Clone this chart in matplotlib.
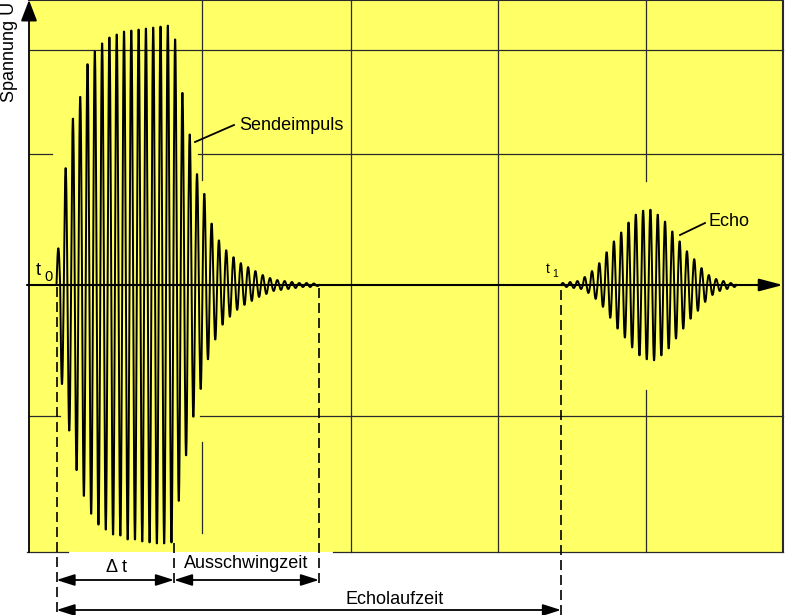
import numpy as np
import matplotlib
matplotlib.use('Agg')
import matplotlib.pyplot as plt

plt.rcParams['font.family'] = ['Liberation Sans', 'DejaVu Sans']

# time base (same units as the drawing, 1 unit ~ 1 px), t0 = start of pulse
t0 = 27.5
t1 = 532.0
period = 7.3

# Sendeimpuls: peak amplitude of each cycle (positive / negative half)
send_pos = [37, 118, 168, 190, 223, 236, 244, 250, 253, 256, 257, 258,
            259, 260, 261, 262, 248, 194, 152, 112, 92, 62, 45, 35,
            28, 22, 18, 14, 10, 7, 5, 4, 3, 2, 2, 1.5]
send_neg = [100, 147, 187, 213, 231, 242, 247, 252, 253, 257, 257, 259,
            260, 261, 261, 260, 218, 172, 133, 105, 75, 55, 40, 32,
            25, 20, 16, 12, 9, 6, 5, 4, 3, 2, 2, 1]

# Echo: peak amplitude of each cycle
echo_amp = [2, 3, 4, 8, 14, 22, 33, 44, 53, 63, 71, 75,
            76, 71, 64, 54, 44, 34, 26, 17, 10, 6, 4, 2]

# time marks
t_delta = 145.0      # end of the excitation (Delta t)
t_ausschwing = 290.0  # end of ring-down

# grid (horizontal lines y, vertical lines x)
grid_y = [235, 131, -131, -267]
grid_x = [173, 322, 469, 617]

yellow = '#ffff66'
gridcol = '#2a2a2a'


def burst(start, pos, neg):
    ts, ys = [], []
    ph = np.linspace(0, 1, 12)
    for i in range(len(pos)):
        a = start + i * period
        ts.append(a + ph * period / 2)
        ys.append(pos[i] * np.sin(np.pi * ph))
        ts.append(a + period / 2 + ph * period / 2)
        ys.append(-neg[i] * np.sin(np.pi * ph))
    return np.concatenate(ts), np.concatenate(ys)


fig = plt.figure(figsize=(7.85, 6.15), dpi=100)
ax = fig.add_axes([0, 0, 1, 1])
ax.set_xlim(-29, 756)
ax.set_ylim(-330, 285)
ax.axis('off')

# yellow plot field
ax.add_patch(plt.Rectangle((0, -267), 754, 552, color=yellow, lw=0, zorder=0))

# grid segments (parts hidden behind the bursts are left out)
def hseg(y, x0, x1, lw=0.9):
    ax.plot([x0, x1], [y, y], color=gridcol, lw=lw, zorder=1)

def vseg(x, y0, y1, lw=0.9):
    ax.plot([x, x], [y0, y1], color=gridcol, lw=lw, zorder=1)

hseg(grid_y[0], 0, 754)
hseg(grid_y[1], 0, 23)
hseg(grid_y[1], 169, 754)
hseg(grid_y[2], 0, 31)
hseg(grid_y[2], 171, 754)
hseg(grid_y[3], -2, 39)
hseg(grid_y[3], 304, 754)
hseg(285, 0, 754, lw=1.5)
vseg(grid_x[0], 105, 285)
vseg(grid_x[0], -248, -157)
vseg(grid_x[1], -267, 285)
vseg(grid_x[2], -267, 285)
vseg(grid_x[3], 104, 285)
vseg(grid_x[3], -267, -105)
vseg(754, -267, 285, lw=1.5)

# axes with arrows
ax.annotate('', xy=(754, 0), xytext=(-2, 0),
            arrowprops=dict(arrowstyle='-|>,head_length=1.45,head_width=0.38',
                            mutation_scale=10, color='black', lw=1.5,
                            shrinkA=0, shrinkB=0))
ax.annotate('', xy=(0, 285), xytext=(0, -267),
            arrowprops=dict(arrowstyle='-|>,head_length=1.3,head_width=0.5',
                            mutation_scale=10, color='black', lw=1.3,
                            shrinkA=0, shrinkB=0))

# signals
x, y = burst(t0, send_pos, send_neg)
ax.plot(x, y, color='black', lw=1.4, zorder=3)
x, y = burst(t1, echo_amp, echo_amp)
ax.plot(x, y, color='black', lw=1.4, zorder=3)

# dashed marker lines
dash = (0, (6, 3))
for tx, ylo, yhi in [(t0, -327, 0), (t_delta, -298, -258),
                     (t_ausschwing, -298, 0), (t1, -330, 0)]:
    ax.plot([tx, tx], [ylo, yhi], color='black', lw=1.2, linestyle=dash, zorder=4)

# dimension arrows
dim = dict(arrowstyle='<|-|>,head_length=1.1,head_width=0.35', mutation_scale=10,
           color='black', lw=1.3, shrinkA=0, shrinkB=0)
ax.annotate('', xy=(t0, -295), xytext=(t_delta, -295), arrowprops=dim)
ax.annotate('', xy=(t_delta, -295), xytext=(t_ausschwing, -295), arrowprops=dim)
ax.annotate('', xy=(t0, -325), xytext=(t1, -325), arrowprops=dim)

fs = 13
ax.text(88, -283, '\u0394 t', fontsize=fs, ha='center', va='center')
ax.text(217, -279, 'Ausschwingzeit', fontsize=fs, ha='center', va='center')
ax.text(366, -315, 'Echolaufzeit', fontsize=fs, ha='center', va='center')

# labels
ax.text(-19, 283, 'Spannung U', fontsize=fs, rotation=90, ha='center', va='top')
ax.text(7, 10, 't', fontsize=fs, ha='left', va='baseline')
ax.text(15, 4, '0', fontsize=10.5, ha='left', va='baseline')
ax.text(517, 12, 't', fontsize=10, ha='left', va='baseline')
ax.text(523, 8, '1', fontsize=7.5, ha='left', va='baseline')

ax.plot([166, 205], [143, 160], color='black', lw=1.3)
ax.text(210, 160, 'Sendeimpuls', fontsize=fs, ha='left', va='center')
ax.plot([651, 676], [50, 62], color='black', lw=1.3)
ax.text(680, 64, 'Echo', fontsize=fs, ha='left', va='center')

fig.savefig('out.png', dpi=100)
